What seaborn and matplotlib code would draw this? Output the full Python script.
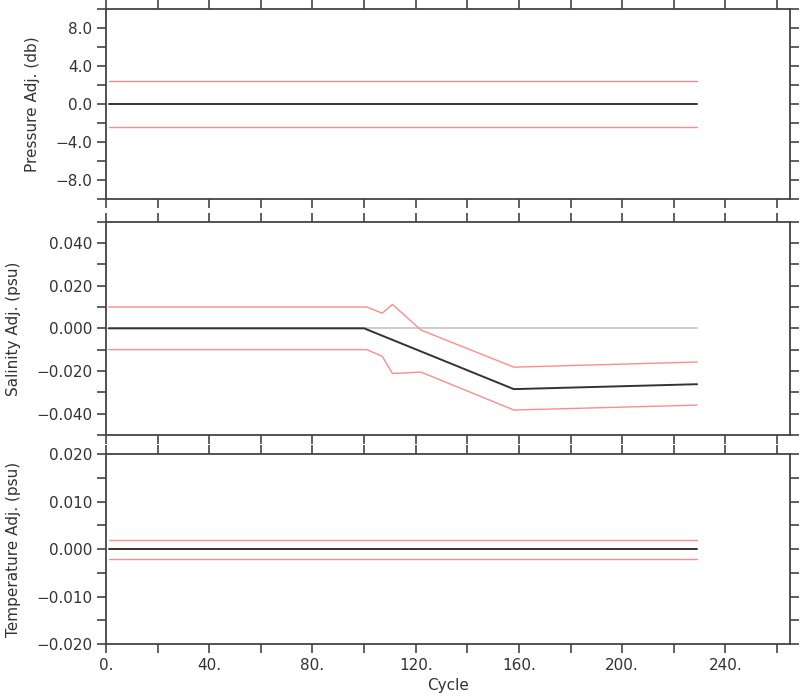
import matplotlib
matplotlib.use("Agg")
import matplotlib.pyplot as plt
import matplotlib.ticker as ticker
import numpy as np
import seaborn as sns

# data
cycle_span = [1, 229]
zero_line = [0.0, 0.0]

pres_adj = [0.0, 0.0]
pres_err = 2.4

sal_cycles = [1, 100, 158, 229]
sal_adj = [0.0, 0.0, -0.0285, -0.0262]
sal_err_cycles = [1, 101, 107, 111, 122, 158, 229]
sal_upper = [0.0100, 0.0100, 0.0071, 0.0112, -0.0008, -0.0182, -0.0158]
sal_lower = [-0.0100, -0.0100, -0.0131, -0.0212, -0.0205, -0.0383, -0.0360]

temp_adj = [0.0, 0.0]
temp_err = 0.002

x_ticks = [0, 40, 80, 120, 160, 200, 240]

sns.set_style("ticks")
plt.rcParams.update({"font.family": ["DejaVu Sans"],
                     "axes.edgecolor": "#444444",
                     "axes.linewidth": 1.3,
                     "xtick.color": "#444444",
                     "ytick.color": "#444444",
                     "xtick.labelcolor": "#333333",
                     "ytick.labelcolor": "#333333",
                     "axes.labelcolor": "#333333"})

fig = plt.figure(figsize=(8, 7), dpi=100, facecolor="w")
left, width = 0.1325, 0.855
ax_p = fig.add_axes([left, 0.7157, width, 0.2713])
ax_s = fig.add_axes([left, 0.3786, width, 0.3047])
ax_t = fig.add_axes([left, 0.0800, width, 0.2714])

black = "#333333"
red = "#ff8c8c"
gray = "#c4c4c4"


def minus(fmt):
    return ticker.FuncFormatter(lambda v, p: (fmt % v).replace("-", "\u2212") if abs(v) > 1e-12 else fmt % 0.0)


# pressure
sns.lineplot(x=cycle_span, y=[v + pres_err for v in pres_adj], ax=ax_p, color="#f08a8a", lw=1)
sns.lineplot(x=cycle_span, y=[v - pres_err for v in pres_adj], ax=ax_p, color=red, lw=1)
sns.lineplot(x=cycle_span, y=pres_adj, ax=ax_p, color=black, lw=1.4)
ax_p.set_ylim(-10, 10)
ax_p.yaxis.set_major_locator(ticker.MultipleLocator(4))
ax_p.yaxis.set_minor_locator(ticker.MultipleLocator(2))
ax_p.yaxis.set_major_formatter(minus("%.1f"))
ax_p.set_ylabel("Pressure Adj. (db)", labelpad=11)

# salinity
sns.lineplot(x=cycle_span, y=zero_line, ax=ax_s, color=gray, lw=1.2)
sns.lineplot(x=sal_err_cycles, y=sal_upper, ax=ax_s, color=red, lw=1)
sns.lineplot(x=sal_err_cycles, y=sal_lower, ax=ax_s, color=red, lw=1)
sns.lineplot(x=sal_cycles, y=sal_adj, ax=ax_s, color=black, lw=1.4)
ax_s.set_ylim(-0.05, 0.05)
ax_s.yaxis.set_major_locator(ticker.MultipleLocator(0.02))
ax_s.yaxis.set_minor_locator(ticker.MultipleLocator(0.01))
ax_s.yaxis.set_major_formatter(minus("%.3f"))
ax_s.set_ylabel("Salinity Adj. (psu)", labelpad=11)

# temperature
sns.lineplot(x=cycle_span, y=[v + temp_err for v in temp_adj], ax=ax_t, color=red, lw=1)
sns.lineplot(x=cycle_span, y=[v - temp_err for v in temp_adj], ax=ax_t, color=red, lw=1)
sns.lineplot(x=cycle_span, y=temp_adj, ax=ax_t, color=black, lw=1.4)
ax_t.set_ylim(-0.02, 0.02)
ax_t.yaxis.set_major_locator(ticker.MultipleLocator(0.01))
ax_t.yaxis.set_minor_locator(ticker.MultipleLocator(0.005))
ax_t.yaxis.set_major_formatter(minus("%.3f"))
ax_t.set_ylabel("Temperature Adj. (psu)", labelpad=11)
ax_t.set_xlabel("Cycle")

for ax in (ax_p, ax_s, ax_t):
    ax.set_xlim(0, 265)
    ax.xaxis.set_major_locator(ticker.FixedLocator(x_ticks))
    ax.xaxis.set_minor_locator(ticker.MultipleLocator(20))
    ax.xaxis.set_major_formatter(ticker.FuncFormatter(lambda v, p: "%d." % v))
    ax.tick_params(which="both", direction="out", length=6.5, width=1.2,
                   top=True, right=True, labelsize=11)
    ax.yaxis.label.set_size(11)
    ax.xaxis.label.set_size(11)
    for s in ax.spines.values():
        s.set_visible(True)
    if ax is not ax_t:
        ax.tick_params(labelbottom=False)
    ax.set_facecolor("white")

fig.savefig("out.png", dpi=100, facecolor="w")
plt.close(fig)
